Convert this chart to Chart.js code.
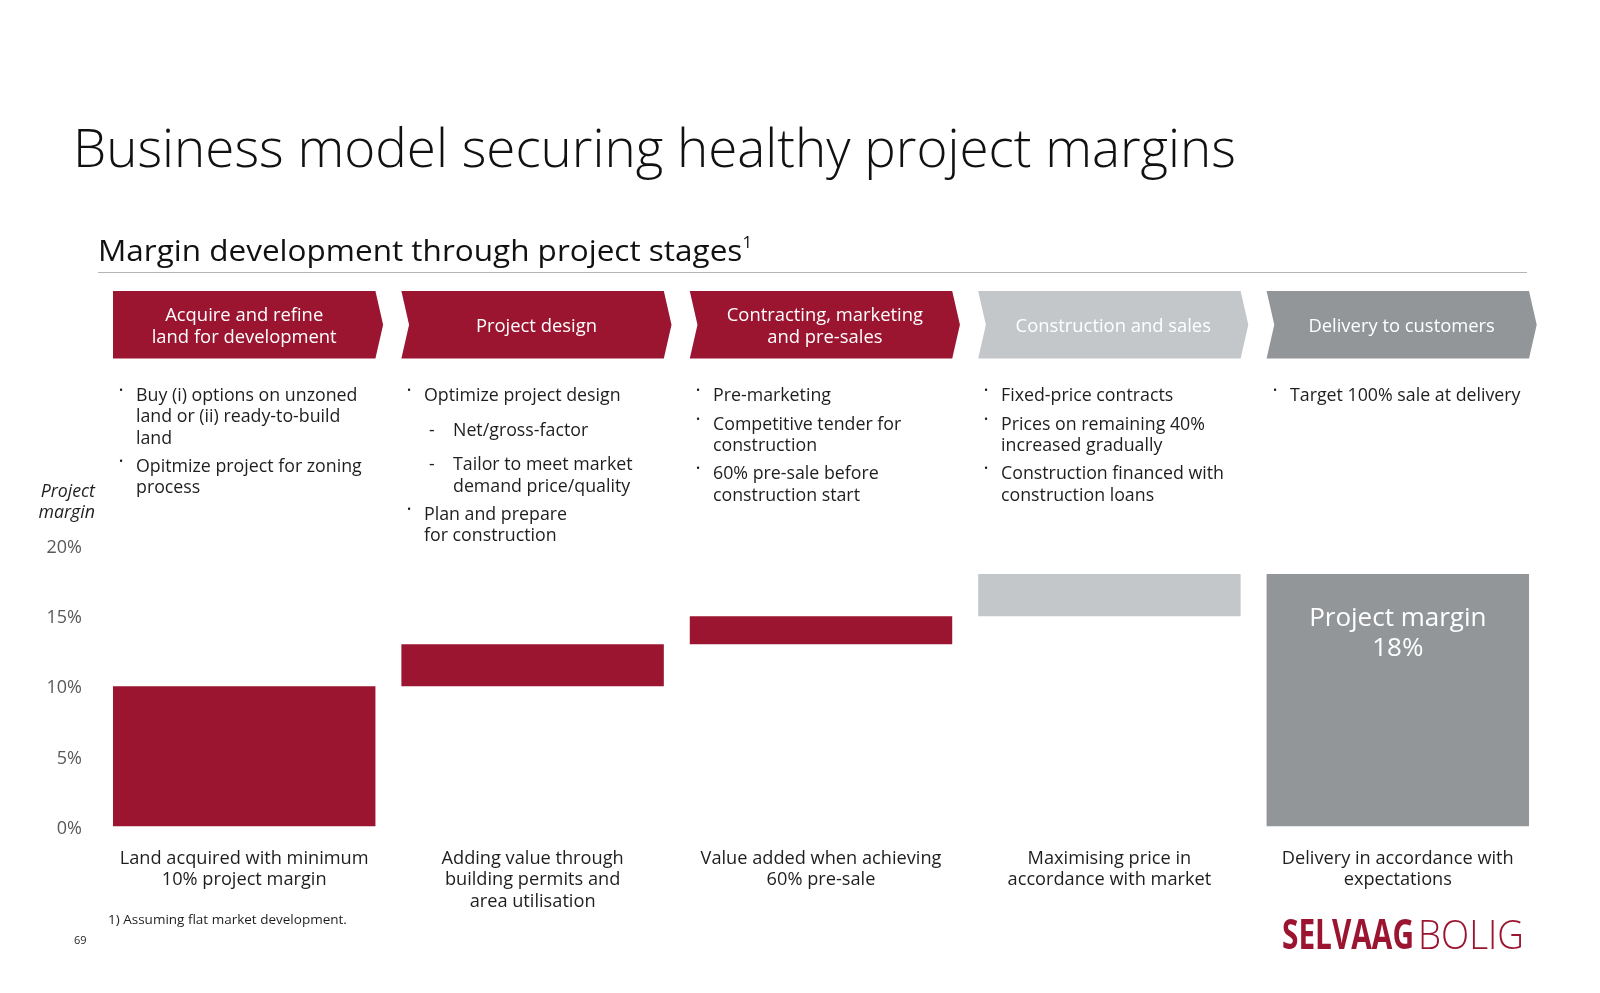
<!DOCTYPE html>
<html>
<head>
<meta charset="utf-8">
<script src="https://cdn.jsdelivr.net/npm/chart.js@4.4.0/dist/chart.umd.min.js"></script>
<style>
    html, body { margin: 0; padding: 0; background: #fff; }
    #page { position: relative; width: 1600px; height: 993px; overflow: hidden; font-family: 'Open Sans', sans-serif; color: #1e1e1e; }
    #chart { position: absolute; left: 0; top: 0; }
    .t { position: absolute; white-space: nowrap; }
    .fit { transform-origin: 0 50%; }
    .col { position: absolute; top: 384px; font-size: 17.8px; line-height: 21.3px; color: #1e1e1e; }
    .col .item { position: relative; margin-top: 7.3px; white-space: nowrap; }
    .col .item:first-child { margin-top: 0; }
    .col .item.dash { margin-top: 13.4px; padding-left: 29px; }
    .col .item.dash + .item:not(.dash) { margin-top: 6.8px; }
    .col .mark { position: absolute; left: -17px; top: -5px; font-size: 11px; }
    .col .item.dash .mark { left: 5px; top: 0; font-size: 17.5px; }
    .note { position: absolute; top: 847px; width: 320px; margin-left: -160px; text-align: center; font-size: 18.2px; line-height: 21.3px; color: #1e1e1e; }
</style>
</head>
<body>
<div id="page">
    <canvas id="chart" width="1600" height="993"></canvas>

    <div class="t fit" id="title" data-w="1163" style="left:73px; top:110px; font-size:53px; font-weight:300; color:#111;">Business model securing healthy project margins</div>
    <div class="t fit" id="subtitle" data-w="654" style="left:98px; top:229px; font-size:30px; font-weight:400; color:#111;">Margin development through project stages<sup style="font-size:16px; position:relative; top:-2px;">1</sup></div>
    <div class="t" style="left:98px; top:272px; width:1429px; height:1px; background:#b4b4b4;"></div>

    <div class="t" style="right:1505px; top:480px; font-size:17.8px; line-height:21.3px; font-style:italic; text-align:right; color:#1e1e1e;">Project<br>margin</div>

    <div id="cols"></div>
    <div id="notes"></div>

    <div class="t" style="left:108px; top:910px; font-size:13.5px; color:#1e1e1e;">1) Assuming flat market development.</div>
    <div class="t" style="left:74px; top:932px; font-size:11px; color:#1e1e1e;">69</div>

    <div class="t fit" data-w="132" style="left:1282px; top:911px; font-size:41px; font-weight:700; color:#9b1530; line-height:44px;">SELVAAG</div>
    <div class="t fit" data-w="106" style="left:1418px; top:911px; font-size:41px; font-weight:300; color:#9b1530; line-height:44px;">BOLIG</div>
</div>

<script>
// Project stages and margin steps (percent)
const stages = [
    ['Acquire and refine', 'land for development'],
    ['Project design'],
    ['Contracting, marketing', 'and pre-sales'],
    ['Construction and sales'],
    ['Delivery to customers']
];
const marginFrom = [0, 10, 13, 15, 0];
const marginTo = [10, 13, 15, 18, 18];
const yTicks = [0, 5, 10, 15, 20];
const stageColors = ['#9b1530', '#9b1530', '#9b1530', '#c3c7ca', '#939699'];

const bullets = [
    [ { t: ['Buy (i) options on unzoned', 'land or (ii) ready-to-build', 'land'] },
      { t: ['Opitmize project for zoning', 'process'] } ],
    [ { t: ['Optimize project design'] },
      { t: ['Net/gross-factor'], dash: true },
      { t: ['Tailor to meet market', 'demand price/quality'], dash: true },
      { t: ['Plan and prepare', 'for construction'] } ],
    [ { t: ['Pre-marketing'] },
      { t: ['Competitive tender for', 'construction'] },
      { t: ['60% pre-sale before', 'construction start'] } ],
    [ { t: ['Fixed-price contracts'] },
      { t: ['Prices on remaining 40%', 'increased gradually'] },
      { t: ['Construction financed with', 'construction loans'] } ],
    [ { t: ['Target 100% sale at delivery'] } ]
];
const bulletLeft = [136, 424, 713, 1001, 1290];

const notes = [
    ['Land acquired with minimum', '10% project margin'],
    ['Adding value through', 'building permits and', 'area utilisation'],
    ['Value added when achieving', '60% pre-sale'],
    ['Maximising price in', 'accordance with market'],
    ['Delivery in accordance with', 'expectations']
];
const totalLabel = ['Project margin', '18%'];

// bullet columns
const colsEl = document.getElementById('cols');
bullets.forEach((items, i) => {
    const col = document.createElement('div');
    col.className = 'col';
    col.style.left = bulletLeft[i] + 'px';
    items.forEach(it => {
        const d = document.createElement('div');
        d.className = 'item' + (it.dash ? ' dash' : '');
        d.innerHTML = '<span class="mark">' + (it.dash ? '-' : '•') + '</span>' + it.t.join('<br>');
        col.appendChild(d);
    });
    colsEl.appendChild(col);
});

// fit a few headline texts to their measured width
document.querySelectorAll('.fit').forEach(el => {
    const w = el.getBoundingClientRect().width;
    el.style.transform = 'scaleX(' + (Number(el.dataset.w) / w) + ')';
});

const stagePlugin = {
    id: 'stages',
    afterDatasetsDraw(chart) {
        const ctx = chart.ctx;
        const meta = chart.getDatasetMeta(0);
        const top = 291, bot = 358.5, mid = (top + bot) / 2, d = 7.7;
        ctx.save();
        meta.data.forEach((bar, i) => {
            const l = bar.x - bar.width / 2, r = bar.x + bar.width / 2;
            ctx.beginPath();
            ctx.moveTo(l, top);
            ctx.lineTo(r, top);
            ctx.lineTo(r + d, mid);
            ctx.lineTo(r, bot);
            ctx.lineTo(l, bot);
            if (i > 0) ctx.lineTo(l + d, mid);
            ctx.closePath();
            ctx.fillStyle = stageColors[i];
            ctx.fill();

            ctx.fillStyle = '#ffffff';
            ctx.font = '18.4px "Open Sans"';
            ctx.textAlign = 'center';
            ctx.textBaseline = 'middle';
            const cx = bar.x + (i > 0 ? d / 2 : 0);
            const lines = stages[i];
            lines.forEach((s, k) => {
                ctx.fillText(s, cx, mid + 2 + (k - (lines.length - 1) / 2) * 21.4);
            });
        });
        // total margin label inside the last bar
        const last = meta.data[meta.data.length - 1];
        ctx.font = '26px "Open Sans"';
        ctx.fillStyle = '#ffffff';
        totalLabel.forEach((s, k) => ctx.fillText(s, last.x, last.y + 45 + k * 30));
        ctx.restore();
    }
};

const chart = new Chart(document.getElementById('chart'), {
    type: 'bar',
    data: {
        labels: stages.map(s => s.join(' ')),
        datasets: [{
            data: marginFrom.map((v, i) => [v, marginTo[i]]),
            backgroundColor: stageColors,
            borderWidth: 0,
            barPercentage: 0.91,
            categoryPercentage: 1
        }]
    },
    options: {
        responsive: false,
        animation: false,
        layout: { padding: { left: 40, top: 546, right: 58, bottom: 166.5 } },
        plugins: { legend: { display: false }, tooltip: { enabled: false } },
        scales: {
            x: { display: false },
            y: {
                min: 0,
                max: 20,
                afterBuildTicks: s => { s.ticks = yTicks.map(v => ({ value: v })); },
                afterFit: s => { s.width = 60; },
                ticks: {
                    padding: 18,
                    labelOffset: 2,
                    color: '#595959',
                    font: { family: 'Open Sans', size: 18 },
                    callback: v => v + '%'
                },
                grid: { display: false, drawTicks: false },
                border: { display: false }
            }
        }
    },
    plugins: [stagePlugin]
});

// captions under the bars, centred on each category
const notesEl = document.getElementById('notes');
const xs = chart.scales.x;
notes.forEach((lines, i) => {
    const d = document.createElement('div');
    d.className = 'note';
    d.style.left = xs.getPixelForValue(i) + 'px';
    d.innerHTML = lines.join('<br>');
    notesEl.appendChild(d);
});
</script>
</body>
</html>
